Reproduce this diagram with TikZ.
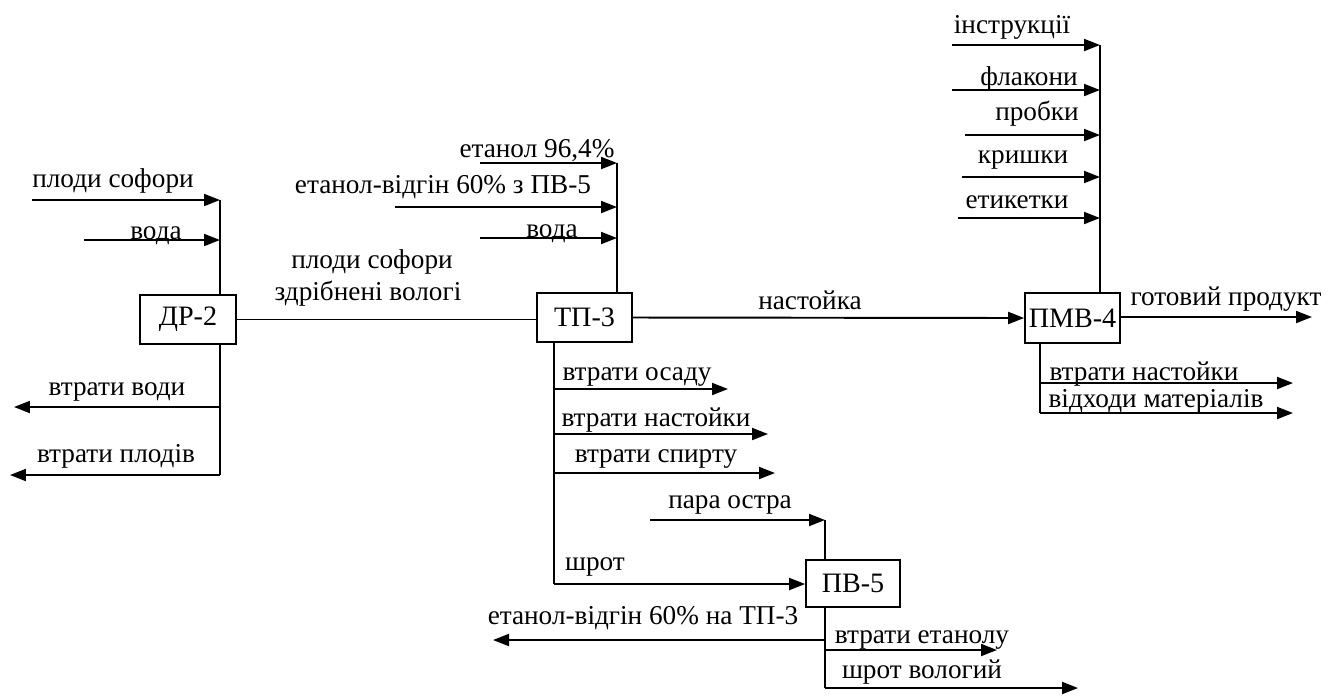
\documentclass[tikz,border=0pt]{standalone}
\usepackage{fontspec}
\setmainfont{Liberation Serif}
\usetikzlibrary{arrows.meta}

\tikzset{
	unit/.style={draw, line width=1pt, inner sep=0pt, font=\fontsize{16}{18}\selectfont},
	flow/.style={line width=1.1pt, -{Triangle[length=0.32cm, width=0.24cm]}},
	pipe/.style={line width=1.1pt},
	lbl/.style={anchor=base, inner sep=0pt, font=\fontsize{15.5}{18}\selectfont}
}

\begin{document}
\begin{tikzpicture}[x=0.02cm, y=-0.02cm]
			\useasboundingbox (0,0) rectangle (1338,698);
			% units
			\node[unit, minimum width=1.92cm, minimum height=0.98cm] (dr) at (188,319.5) {ДР-2};
			\node[unit, minimum width=1.90cm, minimum height=0.98cm] (tp) at (584.5,317.5) {ТП-3};
			\node[unit, minimum width=1.90cm, minimum height=1.00cm] (pmv) at (1072.5,318) {ПМВ-4};
			\node[unit, minimum width=1.88cm, minimum height=0.94cm] (pv) at (853,583.5) {ПВ-5};
			% junctions
			\coordinate (drtop) at (220,200);
			\coordinate (drbot) at (220,475);
			\coordinate (tptop) at (617,163);
			\coordinate (tpbot) at (554,584);
			\coordinate (pmvtop) at (1100,45);
			\coordinate (pmvbot) at (1040,413);
			\coordinate (pvtop) at (825,520);
			\coordinate (pvbot) at (825,688);
			\draw[pipe] (drtop) -- (drtop |- dr.north);
			\draw[pipe] (drbot |- dr.south) -- (drbot);
			\draw[pipe] (tptop) -- (tptop |- tp.north);
			\draw[pipe] (tpbot |- tp.south) -- (tpbot);
			\draw[pipe] (pmvtop) -- (pmvtop |- pmv.north);
			\draw[pipe] (pmvbot |- pmv.south) -- (pmvbot);
			\draw[pipe] (pvtop) -- (pvtop |- pv.north);
			\draw[pipe] (pvbot |- pv.south) -- (pvbot);
			% main line
			\draw[pipe] (dr.east) -- (dr.east -| tp.west);
			\draw[flow] (tp.east) -- (pmv.west);
			\draw[flow] (tpbot) -- (tpbot -| pv.west);
			\coordinate (prod) at (1312,317);
			\draw[flow] (prod -| pmv.east) -- (prod);
			% free ends
			\coordinate (sof) at (32,200);
			\coordinate (vod) at (84,240);
			\coordinate (lvod) at (14,407);
			\coordinate (lplod) at (10,475);
			\coordinate (etn) at (480,163);
			\coordinate (vidg) at (395,207);
			\coordinate (vodb) at (480,238);
			\coordinate (osad) at (728,389);
			\coordinate (nast) at (768,434);
			\coordinate (spirt) at (775,473);
			\coordinate (instr) at (952,45);
			\coordinate (flak) at (952,90);
			\coordinate (prob) at (965,135);
			\coordinate (krysh) at (962,177);
			\coordinate (etyk) at (958,218);
			\coordinate (lnast) at (1293,383);
			\coordinate (vidh) at (1293,413);
			\coordinate (para) at (650,520);
			\coordinate (back) at (493,640);
			\coordinate (leth) at (997,650);
			\coordinate (shrot) at (1078,688);
			% inputs
			\draw[flow] (sof) -- (drtop);
			\draw[flow] (vod) -- (vod -| drtop);
			\draw[flow] (etn) -- (tptop);
			\draw[flow] (vidg) -- (vidg -| tptop);
			\draw[flow] (vodb) -- (vodb -| tptop);
			\draw[flow] (instr) -- (pmvtop);
			\draw[flow] (flak) -- (flak -| pmvtop);
			\draw[flow] (prob) -- (prob -| pmvtop);
			\draw[flow] (krysh) -- (krysh -| pmvtop);
			\draw[flow] (etyk) -- (etyk -| pmvtop);
			\draw[flow] (para) -- (pvtop);
			% outputs
			\draw[flow] (lvod -| drtop) -- (lvod);
			\draw[flow] (drbot) -- (lplod);
			\draw[flow] (osad -| tpbot) -- (osad);
			\draw[flow] (nast -| tpbot) -- (nast);
			\draw[flow] (spirt -| tpbot) -- (spirt);
			\draw[flow] (lnast -| pmvbot) -- (lnast);
			\draw[flow] (pmvbot) -- (vidh);
			\draw[flow] (back -| pvtop) -- (back);
			\draw[flow] (leth -| pvtop) -- (leth);
			\draw[flow] (pvbot) -- (shrot);
			% labels
			\node[lbl] (tsof) at (113,187) {плоди софори};
			\node[lbl] (tvod) at (156,239) {вода};
			\node[lbl] (tlvod) at (117,395) {втрати води};
			\node[lbl] (tlplod) at (116,462) {втрати плодів};
			\node[lbl] (tsof2) at (372,268) {плоди софори};
			\node[lbl] (tzdr) at (368,300) {здрібнені вологі};
			\node[lbl] (tetn) at (537,157) {етанол 96,4\%};
			\node[lbl] (tvidg) at (443,193) {етанол-відгін 60\% з ПВ-5};
			\node[lbl] (tvodb) at (552,237) {вода};
			\node[lbl] (tnast) at (810,309) {настойка};
			\node[lbl] (tosad) at (637,380) {втрати осаду};
			\node[lbl] (tlnast) at (656,426) {втрати настойки};
			\node[lbl] (tspirt) at (656,462) {втрати спирту};
			\node[lbl] (tpara) at (730,508) {пара остра};
			\node[lbl] (tshr) at (595,570) {шрот};
			\node[lbl] (tback) at (643,624) {етанол-відгін 60\% на ТП-3};
			\node[lbl] (tleth) at (922,643) {втрати етанолу};
			\node[lbl] (tshrv) at (922,678) {шрот вологий};
			\node[lbl] (tinstr) at (1012,33) {інструкції};
			\node[lbl] (tflak) at (1029,85) {флакони};
			\node[lbl] (tprob) at (1037,120) {пробки};
			\node[lbl] (tkrysh) at (1023,163) {кришки};
			\node[lbl] (tetyk) at (1017,208) {етикетки};
			\node[lbl] (tprod) at (1226,305) {готовий продукт};
			\node[lbl] (tpnast) at (1144,380) {втрати настойки};
			\node[lbl] (tvidh) at (1156,407) {відходи матеріалів};
		\end{tikzpicture}
\end{document}
